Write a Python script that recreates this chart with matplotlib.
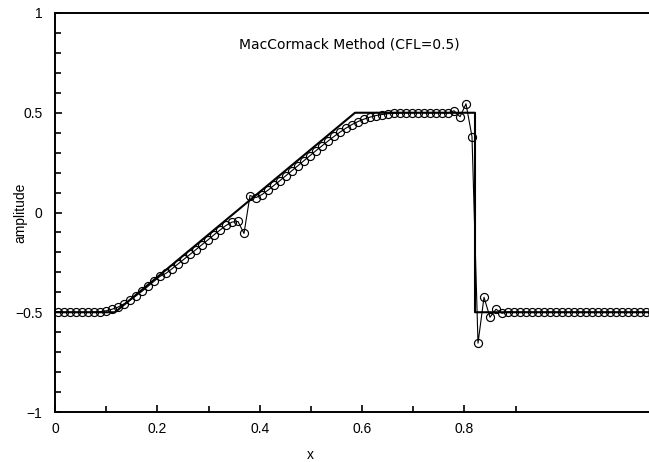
import numpy as np
import matplotlib
matplotlib.use('Agg')
import matplotlib.pyplot as plt

# exact solution (corner points)
exact_x = [0.0, 0.1, 0.5, 0.7, 0.7, 1.0]
exact_y = [-0.5, -0.5, 0.5, 0.5, -0.5, -0.5]

# numerical solution, cell centres 0.005 ... 0.995
num_x = [0.005, 0.015, 0.025, 0.035, 0.045, 0.055, 0.065, 0.075, 0.085, 0.095,
         0.105, 0.115, 0.125, 0.135, 0.145, 0.155, 0.165, 0.175, 0.185, 0.195,
         0.205, 0.215, 0.225, 0.235, 0.245, 0.255, 0.265, 0.275, 0.285, 0.295,
         0.305, 0.315, 0.325, 0.335, 0.345, 0.355, 0.365, 0.375, 0.385, 0.395,
         0.405, 0.415, 0.425, 0.435, 0.445, 0.455, 0.465, 0.475, 0.485, 0.495,
         0.505, 0.515, 0.525, 0.535, 0.545, 0.555, 0.565, 0.575, 0.585, 0.595,
         0.605, 0.615, 0.625, 0.635, 0.645, 0.655, 0.665, 0.675, 0.685, 0.695,
         0.705, 0.715, 0.725, 0.735, 0.745, 0.755, 0.765, 0.775, 0.785, 0.795,
         0.805, 0.815, 0.825, 0.835, 0.845, 0.855, 0.865, 0.875, 0.885, 0.895,
         0.905, 0.915, 0.925, 0.935, 0.945, 0.955, 0.965, 0.975, 0.985, 0.995]
num_y = [-0.5, -0.5, -0.5, -0.5, -0.5, -0.5, -0.499, -0.497, -0.493, -0.485,
         -0.474, -0.458, -0.44, -0.418, -0.395, -0.37, -0.345, -0.32, -0.305, -0.282,
         -0.258, -0.234, -0.21, -0.186, -0.161, -0.137, -0.112, -0.088, -0.065, -0.048,
         -0.045, -0.105, 0.085, 0.075, 0.09, 0.112, 0.136, 0.16, 0.185, 0.21,
         0.235, 0.26, 0.285, 0.31, 0.334, 0.358, 0.381, 0.403, 0.423, 0.441,
         0.456, 0.468, 0.478, 0.486, 0.491, 0.495, 0.497, 0.499, 0.5, 0.5,
         0.5, 0.5, 0.5, 0.5, 0.5, 0.498, 0.51, 0.48, 0.545, 0.38,
         -0.655, -0.425, -0.525, -0.485, -0.505, -0.498, -0.5, -0.5, -0.5, -0.5,
         -0.5, -0.5, -0.5, -0.5, -0.5, -0.5, -0.5, -0.5, -0.5, -0.5,
         -0.5, -0.5, -0.5, -0.5, -0.5, -0.5, -0.5, -0.5, -0.5, -0.5]

# tick labels sit on a compressed scale relative to the data
xtick_labels = ['0', '0.2', '0.4', '0.6', '0.8']
xtick_vals = [0.0, 0.2, 0.4, 0.6, 0.8]
xminor_vals = [0.1, 0.3, 0.5, 0.7, 0.9]
tick_scale = 0.853

plt.rcParams['font.family'] = ['Liberation Sans', 'DejaVu Sans']

fig = plt.figure(figsize=(6.49, 4.62), dpi=100)
ax = fig.add_axes([55/649, 50/462, 600/649, 399/462])

ax.plot(exact_x, exact_y, color='black', lw=1.5)
ax.plot(num_x, num_y, color='black', lw=0.8, marker='o', ms=5.8,
        mfc='none', mec='black', mew=0.85)

ax.set_xlim(0, 1.0)
ax.set_ylim(-1, 1)
ax.spines['right'].set_visible(False)
for s in ('left', 'top', 'bottom'):
    ax.spines[s].set_linewidth(1.4)

ax.set_xticks([v * tick_scale for v in xtick_vals])
ax.set_xticklabels(xtick_labels)
ax.set_xticks([v * tick_scale for v in xminor_vals], minor=True)
ax.set_yticks([-1, -0.5, 0, 0.5, 1])
ax.set_yticklabels(['\u22121', '\u22120.5', '0', '0.5', '1'])
ax.set_yticks(np.arange(-0.9, 1.0, 0.1), minor=True)
ax.tick_params(which='both', direction='in', top=False, right=False,
               labelsize=10, width=1.2)
ax.tick_params(which='major', length=5, pad=7)
ax.tick_params(which='minor', length=4)
ax.tick_params(axis='y', which='major', pad=9)

ax.text(0.49, 0.84, 'MacCormack Method (CFL=0.5)', ha='center', va='center',
        fontsize=10, family='DejaVu Sans')
fig.text(310/649, 1 - 455/462, 'x', ha='center', va='center', fontsize=10)
fig.text(20/649, 0.5 + (231 - 213)/462, 'amplitude', ha='center', va='center',
         rotation=90, fontsize=10)

plt.savefig('out.png', dpi=100)
